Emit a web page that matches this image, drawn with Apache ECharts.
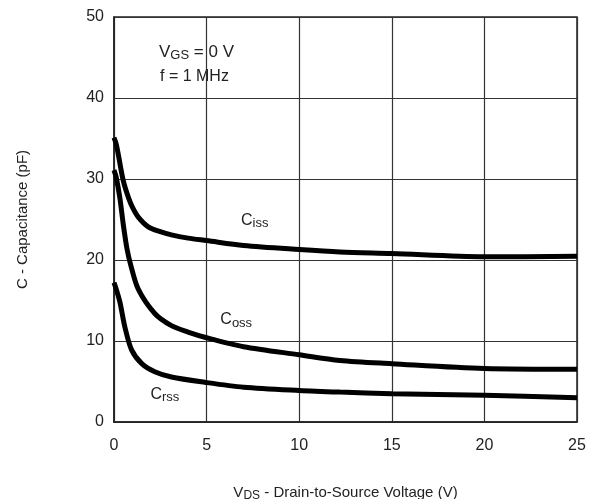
<!DOCTYPE html>
<html><head><meta charset="utf-8">
<script src="https://cdn.jsdelivr.net/npm/echarts@6/dist/echarts.min.js"></script>
<style>html,body{margin:0;padding:0;background:#fff}#c{width:592px;height:499px}</style>
</head><body><div id="c"></div>
<script>
const xTicks = [0, 5, 10, 15, 20, 25];
const yTicks = [0, 10, 20, 30, 40, 50];
const cissData = [[0,35.1],[0.12,34.3],[0.25,32.8],[0.5,29.8],[0.78,27.7],[1.0,26.5],[1.31,25.3],[1.85,24.1],[2.5,23.5],[3.1,23.1],[4.0,22.7],[5,22.4],[7,21.8],[10,21.3],[12.2,21.0],[15,20.8],[20,20.4],[25,20.45]];
const cossData = [[0,31.1],[0.12,30.2],[0.32,27.6],[0.5,24.4],[0.7,21.4],[0.9,19.4],[1.31,16.4],[2.2,13.4],[3.1,11.9],[4.0,11.1],[5,10.4],[7,9.3],[10,8.3],[12.2,7.6],[15,7.2],[20,6.6],[25,6.5]];
const crssData = [[0,17.2],[0.12,16.4],[0.32,14.8],[0.59,11.7],[0.95,8.9],[1.5,7.2],[2.2,6.2],[3.1,5.55],[4.9,4.9],[7,4.3],[10,3.9],[12.2,3.7],[15,3.5],[20,3.3],[25,3.0]];
const curveLabels = [
  {name:'C', sub:'iss', coord:[7.6, 24.9]},
  {name:'C', sub:'oss', coord:[6.6, 12.6]},
  {name:'C', sub:'rss', coord:[2.75, 3.4]}
];
const FONT = 'Liberation Sans';
const chart = echarts.init(document.getElementById('c'));
function lineSeries(data, lbl) {
  return {
    type:'line', data:data, smooth:0.3, symbol:'none',
    lineStyle:{color:'#000', width:5},
    markPoint: lbl ? {
      symbol:'circle', symbolSize:0,
      data:[{coord:lbl.coord, value:0}],
      label:{show:true, position:'inside',
        formatter:'{a|' + lbl.name + '}{b|' + lbl.sub + '}',
        rich:{a:{fontFamily:FONT, fontSize:16, color:'#222'}, b:{fontFamily:FONT, fontSize:13, color:'#222', verticalAlign:'bottom', padding:[6,0,0,0]}}}
    } : undefined
  };
}
chart.setOption({
  animation:false,
  grid:{left:114, right:15, top:17, bottom:77, show:true, borderColor:'#222', borderWidth:1.5, containLabel:false, outerBoundsMode:'none'},
  xAxis:{type:'value', min:xTicks[0], max:xTicks[xTicks.length-1], interval:5,
    name:'{a|V}{b|DS}{a| - Drain-to-Source Voltage (V)}', nameLocation:'middle', nameGap:62,
    nameTextStyle:{rich:{a:{fontFamily:FONT, fontSize:15, color:'#222'}, b:{fontFamily:FONT, fontSize:12, color:'#222', padding:[6,0,0,0]}}},
    axisLine:{show:true, lineStyle:{color:'#222', width:1.5}}, axisTick:{show:false},
    axisLabel:{fontFamily:FONT, fontSize:16, color:'#222', margin:16},
    splitLine:{show:true, lineStyle:{color:'#333', width:1.2}}},
  yAxis:{type:'value', min:yTicks[0], max:yTicks[yTicks.length-1], interval:10,
    name:'C - Capacitance (pF)', nameLocation:'middle', nameGap:84,
    nameTextStyle:{fontFamily:FONT, fontSize:15, color:'#222'},
    axisLine:{show:true, lineStyle:{color:'#222', width:1.5}}, axisTick:{show:false},
    axisLabel:{fontFamily:FONT, fontSize:16, color:'#222', margin:10},
    splitLine:{show:true, lineStyle:{color:'#333', width:1.2}}},
  series:[lineSeries(cissData, curveLabels[0]), lineSeries(cossData, curveLabels[1]), lineSeries(crssData, curveLabels[2])],
  graphic:[
    {type:'text', left:159, top:44, style:{text:'{a|V}{b|GS}{a| = 0 V}', rich:{a:{fontFamily:FONT, fontSize:17, fill:'#222'}, b:{fontFamily:FONT, fontSize:13, fill:'#222', padding:[6,0,0,0]}}}},
    {type:'text', left:160, top:69, style:{text:'f = 1 MHz', fontFamily:FONT, fontSize:16, fill:'#222'}}
  ]
});
</script></body></html>
